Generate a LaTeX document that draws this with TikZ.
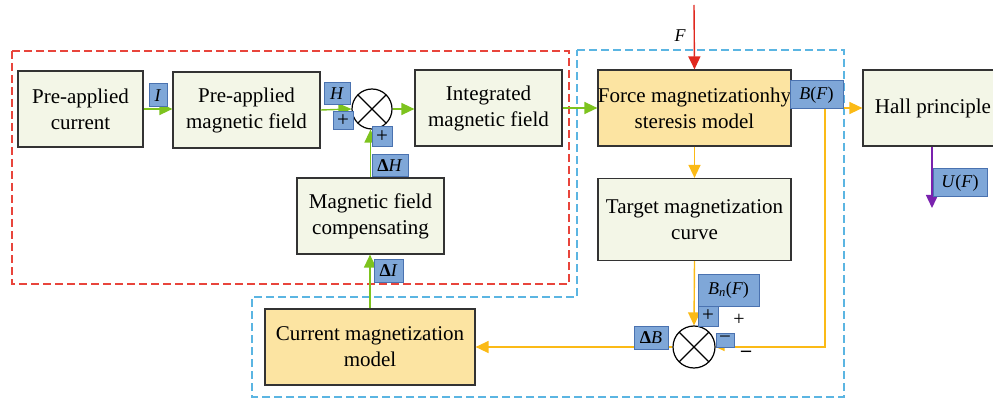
\documentclass[tikz,border=0pt]{standalone}
\usepackage{fontspec}
\setmainfont{Liberation Serif}
\usetikzlibrary{arrows.meta}
\definecolor{boxgreen}{HTML}{F3F6E7}
\definecolor{boxorange}{HTML}{FCE4A2}
\definecolor{tagblue}{HTML}{7FA7D8}
\definecolor{tagedge}{HTML}{4A72B0}
\definecolor{lgreen}{HTML}{7DC31E}
\definecolor{lorange}{HTML}{FBBA16}
\definecolor{lred}{HTML}{E0281E}
\definecolor{lpurple}{HTML}{7A22AE}
\definecolor{dashred}{HTML}{E8453C}
\definecolor{dashblue}{HTML}{5BB5E2}
\tikzset{
  block/.style={draw=black!80, line width=1.2pt, fill=boxgreen, align=center,
    inner sep=0pt, font=\fontsize{21}{26}\selectfont},
  tag/.style={draw=tagedge, fill=tagblue, line width=1pt, inner sep=0pt,
    font=\fontsize{18}{20}\selectfont},
  signtag/.style={tag, font=\fontsize{21}{22}\selectfont},
  sumnode/.style={circle, draw=black, line width=1.2pt, fill=white, minimum size=40pt,
    inner sep=0pt, path picture={
      \draw[line width=1.2pt] (path picture bounding box.south west) -- (path picture bounding box.north east)
        (path picture bounding box.north west) -- (path picture bounding box.south east);}},
  conn/.style={line width=1.4pt, -{Triangle[length=13pt,width=12pt]}},
  garrow/.style={conn, draw=lgreen},
  oarrow/.style={conn, draw=lorange},
}
\begin{document}
\begin{tikzpicture}[x=1pt, y=-1pt]
\useasboundingbox (0,0) rectangle (993,398);
\clip (0,0) rectangle (993,398);

% grouping frames
\draw[dashred, line width=1.3pt, dash pattern=on 8pt off 4pt] (12,51) rectangle (569,284);
\draw[dashblue, line width=1.3pt, dash pattern=on 8pt off 4pt]
  (577,50) -- (844,50) -- (844,397) -- (252,397) -- (252,297) -- (577,297) -- cycle;

% blocks
\node[block, minimum width=125pt, minimum height=76pt] (pac) at (80.5,109) {Pre-applied\\current};
\node[block, minimum width=147pt, minimum height=76pt] (pamf) at (246.5,110) {Pre-applied\\magnetic field};
\node[sumnode] (sum1) at (372,109) {};
\node[block, minimum width=147pt, minimum height=76pt] (imf) at (488.5,108) {Integrated\\magnetic field};
\node[block, minimum width=147pt, minimum height=76pt] (mfc) at (370.5,216) {Magnetic field\\compensating};
\node[block, fill=boxorange, minimum width=193pt, minimum height=76pt] (fmh) at (694.5,108) {Force magnetizationhy\\steresis model};
\node[block, minimum width=193pt, minimum height=82pt] (tmc) at (694.5,219.5) {Target magnetization\\curve};
\node[sumnode, minimum size=42pt] (sum2) at (694,347) {};
\node[block, fill=boxorange, minimum width=210pt, minimum height=76pt] (cmm) at (370,347) {Current magnetization\\model};
\node[block, minimum width=140pt, minimum height=76pt] (hall) at (933,108) {Hall principle};

% free ends of connectors
\coordinate (ftop) at (694,5);
\coordinate (tap) at (825,109);
\coordinate (uend) at (932,208);
\node[font=\fontsize{18}{20}\selectfont\itshape] (flab) at (680,36) {F};

% connectors
\draw[garrow] (pac.east |- 0,109) -- (pamf.west |- 0,109);
\draw[garrow] (pamf.east) -- (sum1.west);
\draw[garrow] (sum1.east) -- (imf.west |- sum1);
\draw[garrow] (imf.east) -- (fmh.west);
\draw[garrow] (mfc.north) -- (mfc.north |- sum1.south);
\draw[garrow] (cmm.north) -- (cmm.north |- mfc.south);
\draw[conn, draw=lred] (ftop) -- (fmh.north);
\draw[oarrow] (fmh.south) -- (tmc.north);
\draw[oarrow] (tmc.south) -- (sum2.north);
\draw[line width=1.4pt, draw=lorange, -{Triangle[length=9pt,width=8pt]}] (tap) |- (sum2.east);
\draw[oarrow] (sum2.west) -- (cmm.east);
\draw[oarrow] (fmh.east |- 0,108) -- (hall.west);
\draw[conn, draw=lpurple] (hall.south -| uend) -- (uend);

% signal tags
\node[tag, minimum width=18pt, minimum height=23pt] (tI) at (158,95.5) {\textit{I}};
\node[tag, minimum width=26pt, minimum height=22pt] (tH) at (337,94) {\textit{H}};
\node[signtag, minimum width=20pt, minimum height=18pt] (tp1) at (343,121) {+};
\node[signtag, minimum width=20pt, minimum height=20pt] (tp2) at (382,137) {+};
\node[tag, minimum width=36pt, minimum height=22pt] (tdH) at (390,166) {\textbf{Δ}\textit{H}};
\node[tag, minimum width=29pt, minimum height=23pt] (tdI) at (388.5,270.5) {\textbf{Δ}\textit{I}};
\node[tag, minimum width=53pt, minimum height=28pt] (tBF) at (816.5,95) {\textit{B}(\textit{F})};
\node[tag, minimum width=54pt, minimum height=28pt] (tUF) at (960,183) {\textit{U}(\textit{F})};
\node[tag, minimum width=61pt, minimum height=32pt] (tBn) at (728.5,290) {\textit{B\textsubscript{n}}(\textit{F})};
\node[signtag, minimum width=20pt, minimum height=20pt] (tp3) at (708,316) {+};
\node[signtag, minimum width=18pt, minimum height=14pt] (tm) at (725,340) {−};
\node[tag, minimum width=34pt, minimum height=23pt] (tdB) at (651,337.5) {\textbf{Δ}\textit{B}};
\node[font=\fontsize{20}{22}\selectfont] (plus) at (739,320) {+};
\node[font=\fontsize{20}{22}\selectfont\bfseries] (minus) at (746,354) {–};
\end{tikzpicture}
\end{document}
